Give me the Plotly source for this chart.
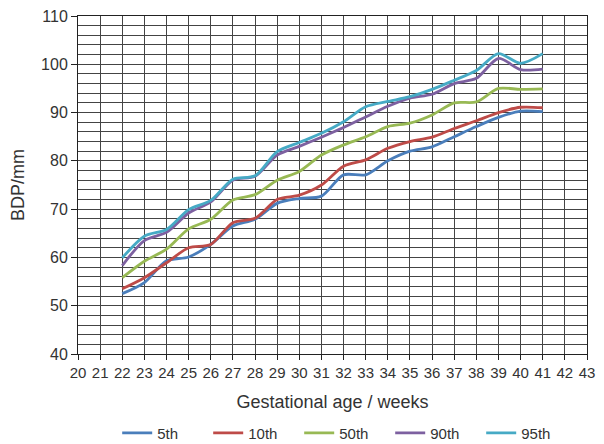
import plotly.graph_objects as go

weeks = list(range(22, 42))
p5 = [52.5, 54.8, 59.3, 60.1, 62.7, 66.5, 67.9, 71.2, 72.2, 72.7, 77.1, 77.1, 80.0, 82.0, 82.9, 85.0, 87.1, 89.0, 90.3, 90.2]
p10 = [53.5, 55.8, 58.9, 62.0, 62.7, 67.2, 68.1, 72.0, 72.9, 75.0, 78.9, 80.2, 82.6, 84.0, 84.9, 86.7, 88.3, 90.0, 91.1, 91.0]
p50 = [55.8, 59.2, 61.7, 65.9, 67.9, 71.9, 73.0, 76.0, 77.8, 81.2, 83.3, 85.0, 87.1, 87.8, 89.5, 92.0, 92.2, 95.0, 94.8, 94.9]
p90 = [58.3, 63.5, 65.2, 69.2, 71.5, 76.0, 76.8, 81.2, 83.0, 84.9, 86.9, 89.1, 91.3, 93.0, 93.8, 96.0, 97.1, 101.2, 98.9, 99.0]
p95 = [59.9, 64.4, 65.8, 69.9, 71.8, 76.2, 76.9, 81.9, 83.8, 85.7, 88.1, 91.2, 92.3, 93.3, 94.8, 96.7, 98.7, 102.2, 100.2, 102.2]

series = [("5th", p5, "#4a7ebb"), ("10th", p10, "#be4b48"), ("50th", p50, "#98b954"),
          ("90th", p90, "#7d60a0"), ("95th", p95, "#46aac5")]

x_ticks = list(range(20, 44))
y_ticks = list(range(40, 111, 10))

fig = go.Figure()
for name, vals, col in series:
    fig.add_trace(go.Scatter(x=weeks, y=vals, name=name, mode="lines",
                             line=dict(color=col, width=2.8, shape="spline", smoothing=0.8)))

font = "Liberation Sans, Arial, sans-serif"
# page body has an 8px margin; plot area placed to match the reference in the window
fig.update_layout(
    width=604, height=436,
    margin=dict(l=70, r=25, t=8, b=90, autoexpand=False),
    paper_bgcolor="white", plot_bgcolor="white",
    font=dict(family=font, color="#333", size=14),
    showlegend=True,
    legend=dict(orientation="h", x=0.077, xanchor="left", y=-0.185, yanchor="top",
                font=dict(size=15), itemwidth=30, traceorder="normal",
                entrywidth=46, entrywidthmode="pixels"),
    xaxis=dict(range=[20, 43], tickvals=x_ticks, ticktext=[str(v) for v in x_ticks],
               showgrid=True, gridcolor="#444", gridwidth=1,
               showline=True, linecolor="#222", linewidth=1, mirror=True,
               ticks="outside", ticklen=5, tickcolor="#222",
               tickfont=dict(size=15), zeroline=False, automargin=False,
               ticklabeloverflow="allow",
               title=dict(text="Gestational age / weeks", font=dict(size=18), standoff=15)),
    yaxis=dict(range=[40, 110], tickvals=y_ticks,
               showgrid=True, gridcolor="#444", gridwidth=1,
               minor=dict(dtick=2, showgrid=True, gridcolor="#444", gridwidth=1, ticks=""),
               showline=True, linecolor="#222", linewidth=1, mirror=True,
               ticks="outside", ticklen=6, tickcolor="#222",
               tickfont=dict(size=16), zeroline=False, automargin=False,
               ticklabeloverflow="allow",
               title=dict(text="BDP/mm", font=dict(size=18), standoff=14)),
)

fig.write_html("out.html")
